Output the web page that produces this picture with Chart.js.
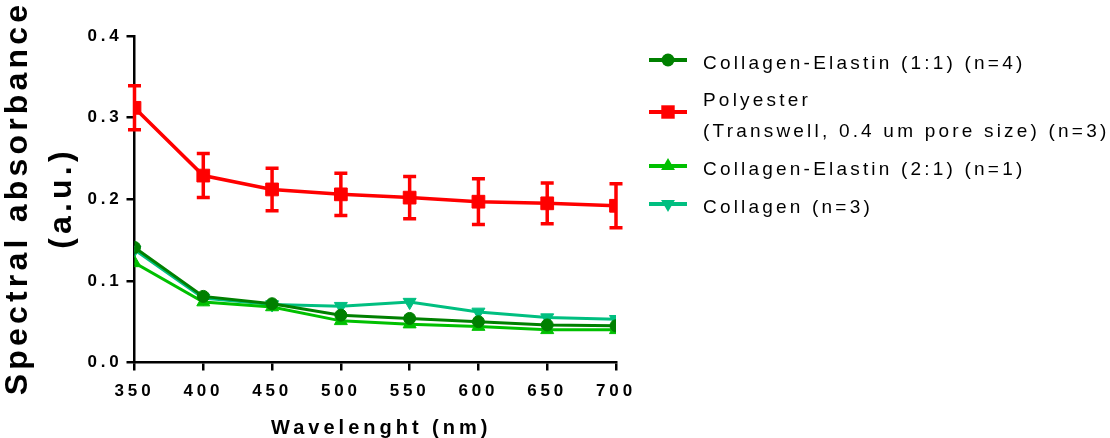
<!DOCTYPE html>
<html>
<head>
<meta charset="utf-8">
<script src="https://cdn.jsdelivr.net/npm/chart.js@4.4.1/dist/chart.umd.min.js"></script>
<style>
  html, body { margin: 0; padding: 0; background: #fff; }
  #wrap { width: 1110px; height: 438px; }
</style>
</head>
<body>
<div id="wrap"><canvas id="chart" width="1110" height="438"></canvas></div>
<script>
// data
const wavelengths = [350, 400, 450, 500, 550, 600, 650, 700];
const ce11 = [0.141, 0.081, 0.072, 0.058, 0.054, 0.050, 0.046, 0.045];
const polyester = [0.312, 0.229, 0.212, 0.206, 0.202, 0.197, 0.195, 0.192];
const polyesterErr = [0.027, 0.027, 0.026, 0.026, 0.026, 0.028, 0.025, 0.027];
const ce21 = [0.122, 0.074, 0.068, 0.051, 0.047, 0.044, 0.040, 0.040];
const collagen = [0.138, 0.079, 0.071, 0.069, 0.074, 0.062, 0.055, 0.053];

const seriesNames = [
    'Collagen-Elastin (1:1) (n=4)',
    'Polyester (Transwell, 0.4 um pore size) (n=3)',
    'Collagen-Elastin (2:1) (n=1)',
    'Collagen (n=3)'
];
const legendLines = [
    ['Collagen-Elastin (1:1) (n=4)'],
    ['Polyester', '(Transwell, 0.4 um pore size) (n=3)'],
    ['Collagen-Elastin (2:1) (n=1)'],
    ['Collagen (n=3)']
];
const xTicks = [350, 400, 450, 500, 550, 600, 650, 700];
const yTicks = [0, 0.1, 0.2, 0.3, 0.4];
const xTitle = 'Wavelenght (nm)';
const yTitle = ['Spectral absorbance', '(a.u.)'];

const FONT = "'Liberation Sans', Arial, sans-serif";
const DARK_GREEN = '#008000';
const RED = '#ff0000';
const GREEN = '#00c000';
const TEAL = '#00bf80';

const toPoints = arr => wavelengths.map((w, i) => ({ x: w, y: arr[i] }));

function series(label, arr, color, style, radius, rotation) {
    return {
        label: label,
        data: toPoints(arr),
        borderColor: color,
        backgroundColor: color,
        borderWidth: 3,
        pointStyle: style,
        pointRadius: radius,
        pointRotation: rotation || 0,
        pointBorderWidth: 1,
        pointBackgroundColor: color,
        pointBorderColor: color,
        tension: 0
    };
}

// small helper for legend markers
function marker(ctx, style, x, y, r, rot) {
    ctx.beginPath();
    if (style === 'circle') {
        ctx.arc(x, y, r, 0, Math.PI * 2);
    } else if (style === 'rect') {
        const s = r * Math.SQRT1_2;
        ctx.rect(x - s, y - s, 2 * s, 2 * s);
    } else {
        let a = (rot || 0) * Math.PI / 180;
        for (let k = 0; k < 3; k++) {
            const px = x + Math.sin(a) * r, py = y - Math.cos(a) * r;
            k ? ctx.lineTo(px, py) : ctx.moveTo(px, py);
            a += Math.PI * 2 / 3;
        }
        ctx.closePath();
    }
    ctx.fill();
}

const textStyle = {
    id: 'textStyle',
    beforeDraw(chart) {
        chart.ctx.letterSpacing = '3.8px';
    }
};

const errorBars = {
    id: 'errorBars',
    beforeDatasetsDraw(chart) {
        const { ctx, scales: { x, y } } = chart;
        ctx.save();
        ctx.strokeStyle = RED;
        ctx.lineWidth = 3.5;
        wavelengths.forEach((w, i) => {
            const px = x.getPixelForValue(w);
            const top = y.getPixelForValue(polyester[i] + polyesterErr[i]);
            const bot = y.getPixelForValue(polyester[i] - polyesterErr[i]);
            ctx.beginPath();
            ctx.moveTo(px, top); ctx.lineTo(px, bot);
            ctx.moveTo(px - 6.5, top); ctx.lineTo(px + 6.5, top);
            ctx.moveTo(px - 6.5, bot); ctx.lineTo(px + 6.5, bot);
            ctx.stroke();
        });
        ctx.restore();
    }
};

const titlesAndLegend = {
    id: 'titlesAndLegend',
    afterDraw(chart) {
        const ctx = chart.ctx;
        const area = chart.chartArea;

        // axis titles
        ctx.save();
        ctx.fillStyle = '#000';
        ctx.font = 'bold 20px ' + FONT;
        ctx.letterSpacing = '4px';
        ctx.textAlign = 'center';
        ctx.textBaseline = 'alphabetic';
        ctx.fillText(xTitle, (area.left + area.right) / 2 + 6, 434);

        ctx.font = 'bold 32px ' + FONT;
        ctx.letterSpacing = '4.2px';
        ctx.translate(0, 200);
        ctx.rotate(-Math.PI / 2);
        ctx.fillText(yTitle[0], 2, 27);
        ctx.fillText(yTitle[1], 2, 71);
        ctx.restore();

        // legend
        const rowY = [60, 112, 166, 204];
        ctx.save();
        ctx.font = '19px ' + FONT;
        ctx.letterSpacing = '3.2px';
        ctx.textAlign = 'left';
        ctx.textBaseline = 'alphabetic';
        chart.data.datasets.forEach((ds, i) => {
            const y = rowY[i];
            ctx.strokeStyle = ds.borderColor;
            ctx.fillStyle = ds.borderColor;
            ctx.lineWidth = 4;
            ctx.beginPath();
            ctx.moveTo(649, y); ctx.lineTo(687, y);
            ctx.stroke();
            marker(ctx, ds.pointStyle, 668, y, ds.pointRadius + 0.5, ds.pointRotation);
            ctx.fillStyle = '#000';
            const lines = legendLines[i];
            if (lines.length === 1) {
                ctx.fillText(lines[0], 703, y + 8.5);
            } else {
                ctx.fillText(lines[0], 703, y - 6);
                ctx.fillText(lines[1], 703, y + 24.5);
            }
        });
        ctx.restore();
        ctx.letterSpacing = '0px';
    }
};

new Chart(document.getElementById('chart').getContext('2d'), {
    type: 'line',
    data: {
        datasets: [
            series(seriesNames[0], ce11, DARK_GREEN, 'circle', 6),
            Object.assign(series(seriesNames[1], polyester, RED, 'rect', 9), { borderWidth: 3.5 }),
            series(seriesNames[2], ce21, GREEN, 'triangle', 7.5),
            series(seriesNames[3], collagen, TEAL, 'triangle', 7.5, 180)
        ]
    },
    options: {
        responsive: false,
        animation: false,
        devicePixelRatio: 1,
        layout: { padding: { left: 0, top: 36, right: 494, bottom: 0 } },
        plugins: {
            legend: { display: false },
            tooltip: { enabled: false }
        },
        scales: {
            x: {
                type: 'linear',
                min: 350,
                max: 700,
                afterBuildTicks: s => { s.ticks = xTicks.map(v => ({ value: v })); },
                afterFit: s => { s.height = 75.5; },
                grid: { drawOnChartArea: false, drawTicks: true, tickLength: 8, color: '#000', lineWidth: 2.5 },
                border: { display: true, color: '#000', width: 2.5 },
                ticks: {
                    color: '#000',
                    padding: 11,
                    maxRotation: 0,
                    font: { family: FONT, size: 17, weight: 'bold' },
                    callback: v => String(v)
                }
            },
            y: {
                min: 0,
                max: 0.4,
                afterBuildTicks: s => { s.ticks = yTicks.map(v => ({ value: v })); },
                afterFit: s => { s.width = 134.5; },
                grid: { drawOnChartArea: false, drawTicks: true, tickLength: 8, color: '#000', lineWidth: 2.5 },
                border: { display: true, color: '#000', width: 2.5 },
                ticks: {
                    color: '#000',
                    padding: 4,
                    font: { family: FONT, size: 17, weight: 'bold' },
                    callback: v => v.toFixed(1)
                }
            }
        }
    },
    plugins: [textStyle, errorBars, titlesAndLegend]
});
</script>
</body>
</html>
